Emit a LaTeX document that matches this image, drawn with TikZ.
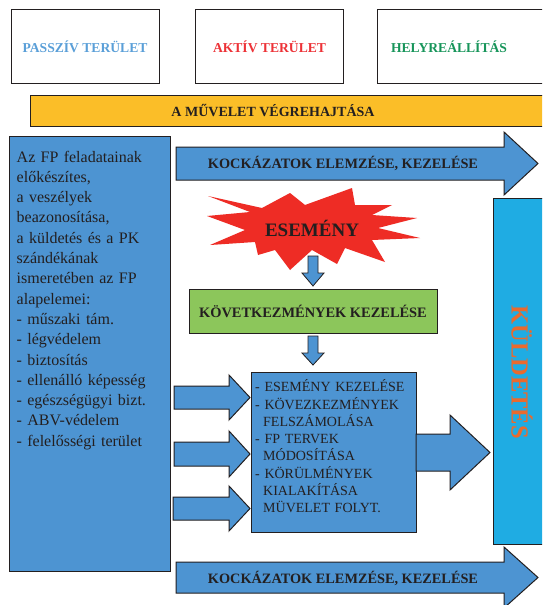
\documentclass[tikz,border=0pt]{standalone}
\usepackage{fontspec}
\setmainfont{Liberation Serif}
\definecolor{boxblue}{RGB}{77,148,210}
\definecolor{kblue}{RGB}{31,172,227}
\definecolor{korange}{RGB}{234,106,46}
\definecolor{kgreen}{RGB}{140,198,91}
\definecolor{barorange}{RGB}{251,190,40}
\definecolor{starred}{RGB}{238,44,37}
\definecolor{pblue}{RGB}{90,159,216}
\definecolor{ared}{RGB}{237,50,55}
\definecolor{hgreen}{RGB}{23,149,90}
\definecolor{ink}{RGB}{35,31,32}
\begin{document}
\begin{tikzpicture}[x=1pt,y=-1pt,
  frame/.style={draw=ink,line width=1pt},
  topbox/.style={frame,fill=white,minimum width=148,minimum height=74,inner sep=0,font=\bfseries\fontsize{13.6}{16}\selectfont},
  blockarrow/.style={frame,fill=boxblue,line join=miter},
  bigtxt/.style={text=ink,font=\bfseries\fontsize{14.3}{17}\selectfont,inner sep=0}]
\clip (0,0) rectangle (542,605);
\fill[white] (0,0) rectangle (542,605);
% top boxes
\node[topbox,text=pblue] (passziv) at (85,46.5) {PASSZÍV TERÜLET};
\node[topbox,text=ared] (aktiv) at (269.5,46.5) {AKTÍV TERÜLET};
\draw[frame] (377,9) rectangle (560,83);
\node[text=hgreen,font=\bfseries\fontsize{13.6}{16}\selectfont,inner sep=0] (helyre) at (449,46.5) {HELYREÁLLÍTÁS};
% orange bar
\draw[frame,fill=barorange] (30,95) rectangle (560,126);
\node[text=ink,font=\bfseries\fontsize{14}{17}\selectfont,inner sep=0] (muvelet) at (273,111) {A MŰVELET VÉGREHAJTÁSA};
% left box
\draw[frame,fill=boxblue] (9,136) rectangle (170,571);
\node[anchor=base west,text width=150,align=left,inner sep=0,text=ink,
  font=\fontsize{16}{20.3}\selectfont] (fp) at (16.5,162)
 {Az FP feladatainak\\ előkészítes,\\ a veszélyek\\ beazonosítása,\\ a küldetés és a PK\\ szándékának\\ ismeretében az FP\\ alapelemei:\\ - műszaki tám.\\ - légvédelem\\ - biztosítás\\ - ellenálló képesség\\ - egészségügyi bizt.\\ - ABV-védelem\\ - felelősségi terület};
% top arrow
\draw[blockarrow] (176,147) -- (504,147) -- (504,132) -- (538,163.5) -- (504,195) -- (504,180) -- (176,180) -- cycle;
\node[bigtxt] (kock1) at (343,163) {KOCKÁZATOK ELEMZÉSE, KEZELÉSE};
% bottom arrow
\draw[blockarrow] (176,562) -- (504,562) -- (504,547) -- (538,577.5) -- (504,608) -- (504,593) -- (176,593) -- cycle;
\node[bigtxt] (kock2) at (343,578) {KOCKÁZATOK ELEMZÉSE, KEZELÉSE};
% star
\fill[starred] (207,216) -- (250,212) -- (208,196) -- (262,208) -- (290,193) -- (305,205) -- (352,188) -- (355,205) -- (392,205) -- (372,215) -- (417,218) -- (378,228) -- (420,238) -- (372,240) -- (385,262) -- (345,248) -- (337,264) -- (312,250) -- (290,270) -- (275,250) -- (258,255) -- (255,242) -- (210,245) -- (245,230) -- cycle;
\node[text=ink,font=\bfseries\fontsize{19}{21}\selectfont,inner sep=0] (esemeny) at (312,228) {ESEMÉNY};
% down arrows
\draw[blockarrow,line width=0.8pt] (308,256) -- (318,256) -- (318,273) -- (324,273) -- (313,286) -- (302,273) -- (308,273) -- cycle;
\draw[blockarrow,line width=0.8pt] (308,336) -- (318,336) -- (318,353) -- (324,353) -- (313,365) -- (302,353) -- (308,353) -- cycle;
% green box
\node[frame,fill=kgreen,minimum width=248,minimum height=44,inner sep=0,text=ink,
  font=\bfseries\fontsize{14.4}{17}\selectfont] (kovet) at (313,311) {KÖVETKEZMÉNYEK KEZELÉSE};
% left arrows
\draw[blockarrow] (174,386) -- (229,386) -- (229,375) -- (250,397.5) -- (229,420) -- (229,409) -- (174,409) -- cycle;
\draw[blockarrow] (174,442) -- (229,442) -- (229,431) -- (250,454) -- (229,477) -- (229,466) -- (174,466) -- cycle;
\draw[blockarrow] (173,497) -- (229,497) -- (229,486) -- (250,508.5) -- (229,531) -- (229,520) -- (173,520) -- cycle;
% middle box
\draw[frame,fill=boxblue] (251,372) rectangle (416,532);
\node[anchor=base west,text width=160,align=left,inner sep=0,text=ink,
  font=\fontsize{14}{17.3}\selectfont] (mid) at (255,391.7)
 {- ESEMÉNY KEZELÉSE\\ - KÖVEZKEZMÉNYEK\\ \hspace*{8pt}FELSZÁMOLÁSA\\ - FP TERVEK\\ \hspace*{8pt}MÓDOSÍTÁSA\\ - KÖRÜLMÉNYEK\\ \hspace*{8pt}KIALAKÍTÁSA\\ \hspace*{8pt}MÜVELET FOLYT.};
% right arrow
\draw[blockarrow] (416,434) -- (450,434) -- (450,415) -- (490,452.5) -- (450,490) -- (450,471) -- (416,471) -- cycle;
% kuldetes box
\draw[frame,fill=kblue] (493,198) rectangle (560,544);
\node[rotate=-90,text=korange,font=\bfseries\fontsize{24.5}{28}\selectfont,inner sep=0] (kuld) at (522,372) {KÜLDETÉS};
\end{tikzpicture}
\end{document}
